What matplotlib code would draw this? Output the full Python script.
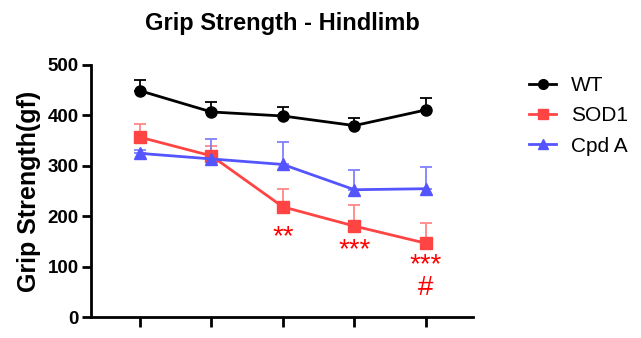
import numpy as np
import matplotlib
matplotlib.use("Agg")
import matplotlib.pyplot as plt
from matplotlib.lines import Line2D

plt.rcParams['font.family'] = ['Liberation Sans', 'DejaVu Sans']

# timepoints (no labels on the x axis)
timepoints = [1, 2, 3, 4, 5]

wt_mean = [449, 407, 399, 380, 411]
wt_err = [21, 19, 17, 16, 23]

sod1_mean = [357, 320, 219, 181, 147]
sod1_err = [26, 20, 35, 41, 41]

cpda_mean = [325, 314, 303, 253, 255]
cpda_err = [6, 39, 45, 39, 43]

# significance marks under the SOD1 points (* vs WT, # vs Cpd A)
sig_marks = ['', '', '**', '***', '***\n#']

RED = '#FF4444'
BLUE = '#5555FF'

fig = plt.figure(figsize=(6.41, 3.38), dpi=100)
ax = fig.add_axes([0.1415, 0.0607, 0.5965, 0.747])

series = [
    ('WT', wt_mean, wt_err, 'black', 'o', 'black', 8),
    ('SOD1', sod1_mean, sod1_err, RED, 's', '#FF8888', 8),
    ('Cpd A', cpda_mean, cpda_err, BLUE, '^', '#8080FF', 8),
]

handles = []
for name, mean, err, color, marker, ecolor, ms in series:
    ax.errorbar(timepoints, mean, yerr=[np.zeros(len(err)), err],
                color=color, ecolor=ecolor, marker=marker, markersize=ms,
                linewidth=2, elinewidth=1.3, capsize=4, capthick=1.3,
                zorder=3)
    handles.append(Line2D([], [], color=color, marker=marker, markersize=7,
                          linewidth=2, label=name))

# star rows sit a little lower for the later timepoints
star_gap = [0, 0, 50, 39, 35]
shift_up = matplotlib.transforms.ScaledTranslation(0, 6 / 72, fig.dpi_scale_trans)
for x, y, mark, gap in zip(timepoints, sod1_mean, sig_marks, star_gap):
    if mark:
        ax.text(x, y - gap, mark, color='red', fontsize=20, ha='center',
                va='top', linespacing=0.8, transform=ax.transData + shift_up)

ax.set_xlim(0.31, 5.66)
ax.set_ylim(0, 500)
ax.set_yticks([0, 100, 200, 300, 400, 500])
ax.set_xticks(timepoints)
ax.set_xticklabels([])

for side in ['top', 'right']:
    ax.spines[side].set_visible(False)
for side in ['left', 'bottom']:
    ax.spines[side].set_linewidth(2)
ax.tick_params(axis='y', width=2, length=6.5, pad=2, labelsize=13.5)
ax.tick_params(axis='x', width=2, length=7.5)
for lbl in ax.get_yticklabels():
    lbl.set_fontweight('bold')

ax.set_ylabel('Grip Strength(gf)', fontsize=18, fontweight='bold', labelpad=5)
ax.set_title('Grip Strength - Hindlimb', fontsize=17, fontweight='bold', pad=25)

ax.legend(handles=handles, loc='upper left', bbox_to_anchor=(1.125, 0.99),
          frameon=False, fontsize=15, handlelength=1.3, handletextpad=0.7,
          labelspacing=0.55, borderaxespad=0)

fig.savefig('out.png', dpi=100)
